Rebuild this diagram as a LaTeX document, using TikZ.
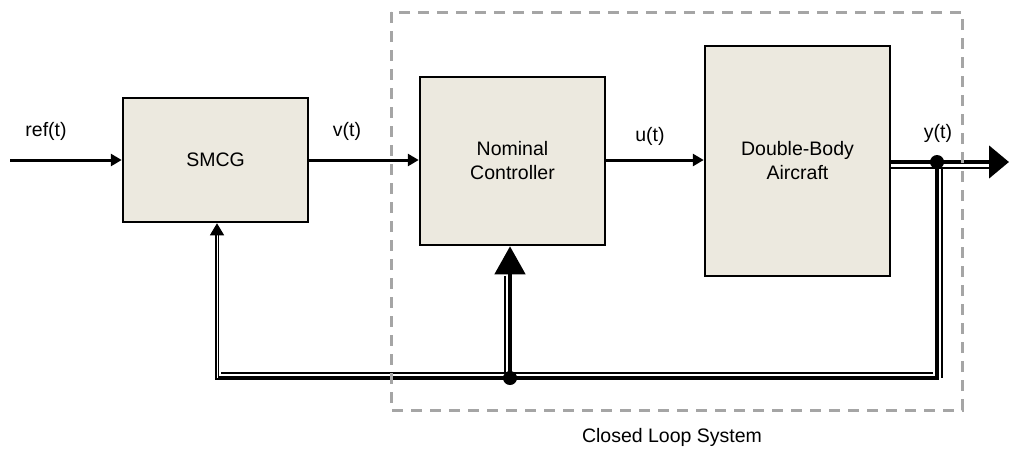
\documentclass[tikz,border=0pt]{standalone}
\usepackage{fontspec}
\setmainfont{Liberation Sans}
\usetikzlibrary{arrows.meta, calc}

\definecolor{boxfill}{RGB}{236,233,223}
\definecolor{framegray}{RGB}{165,165,165}

\tikzset{
	block/.style = {draw, line width = 2.5pt, fill = boxfill, align = center, inner sep = 0pt, font = \fontsize{19.5}{24}\selectfont},
	siglabel/.style = {font = \fontsize{19.5}{24}\selectfont},
	signal/.style = {line width = 3pt, -{Triangle[length = 11pt, width = 12pt]}},
	heavy/.style = {line width = 4.5pt},
	shadowline/.style = {line width = 1.3pt},
	fbreturn/.style = {draw, line width = 1.2pt, double, double distance = 1pt, -{Triangle[length = 12pt, width = 14pt]}},
	junction/.style = {circle, fill, inner sep = 0pt, minimum size = 14pt},
}

\begin{document}
\begin{tikzpicture}[yscale = -1, x = 1pt, y = 1pt]
	\useasboundingbox (0, 0) rectangle (1011, 451);

	% Bloecke
	\node [block, minimum width = 185pt, minimum height = 124pt] (smcg) at (215.5, 160) {SMCG};
	\node [block, minimum width = 185pt, minimum height = 168pt] (ctrl) at (512.5, 161) {Nominal\\Controller};
	\node [block, minimum width = 185pt, minimum height = 230pt] (plant) at (797.5, 161) {Double-Body\\Aircraft};

	% Signale
	\coordinate (refin) at (10, 160);
	\draw [signal] (refin) -- (smcg.west |- refin);
	\draw [signal] (smcg.east |- refin) -- (ctrl.west |- refin);
	\draw [signal] (ctrl.east |- refin) -- (plant.west |- refin);
	\node [siglabel] (reflabel) at (46, 131) {ref(t)};
	\node [siglabel] (vlabel) at (347, 131) {v(t)};
	\node [siglabel] (ulabel) at (650, 136) {u(t)};
	\node [siglabel] (ylabel) at (938, 133) {y(t)};

	% Ausgang
	\node [junction] (ytap) at (937, 162) {};
	\coordinate (yout) at (1009, 162);
	\draw [shadowline] ($(plant.east |- yout) + (0, 6)$) -- ($(yout) + (-20, 6)$);
	\draw [heavy, -{Triangle[length = 20pt, width = 32pt]}] (plant.east |- yout) -- (yout);

	% Rueckfuehrung
	\coordinate (fbright) at (937, 378);
	\coordinate (fbleft) at (217, 378);
	\node [junction] (fbmid) at (510, 378) {};
	\draw [shadowline] ($(ytap) + (5, 5)$) -- ($(fbright) + (5, 0)$);
	\draw [shadowline] ($(fbright) + (-4, -5)$) -- ($(fbleft) + (4, -5)$);
	\draw [shadowline] ($(fbmid) + (-5, -4)$) -- ($(ctrl.south -| fbmid) + (-5, 30)$);
	\draw [heavy, line cap = rect] (ytap.center) -- (fbright) -- (fbleft);
	\draw [heavy, -{Triangle[length = 28pt, width = 30pt]}] (fbmid.center) -- (ctrl.south -| fbmid);
	\draw [fbreturn] (fbleft) -- (smcg.south -| fbleft);

	% Geschlossener Regelkreis
	\draw [framegray, line width = 3pt, dash pattern = on 11pt off 8pt] (391, 12) rectangle (962, 410);
	\node [siglabel] (looplabel) at (672, 437) {Closed Loop System};
\end{tikzpicture}
\end{document}
